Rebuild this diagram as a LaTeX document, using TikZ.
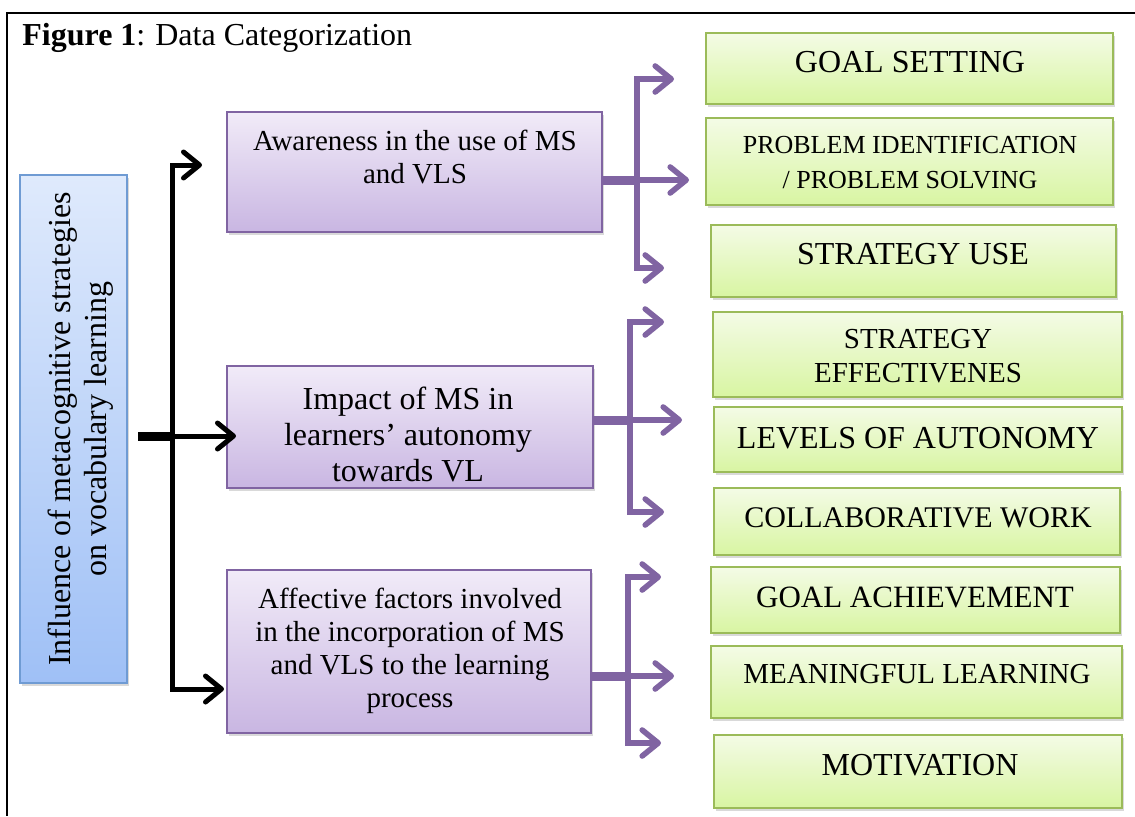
\documentclass[tikz,border=0pt]{standalone}
\usepackage{fontspec}
\setmainfont{Liberation Serif}
\usetikzlibrary{arrows.meta, shadows, fit}

\definecolor{purpleline}{HTML}{8064A2}
\definecolor{purpletop}{HTML}{F1EBF8}
\definecolor{purplebot}{HTML}{C9B6E2}
\definecolor{greenline}{HTML}{9BBB59}
\definecolor{greentop}{HTML}{F4FBE6}
\definecolor{greenbot}{HTML}{D8F5A2}
\definecolor{blueline}{HTML}{6F9BD3}
\definecolor{bluetop}{HTML}{DFEAFC}
\definecolor{bluebot}{HTML}{9FC0F6}

\tikzset{
    box/.style={inner sep=0pt, line width=1pt,
        drop shadow={shadow xshift=1.2pt, shadow yshift=-1.5pt, opacity=.3}},
    bluebox/.style={box, draw=blueline, top color=bluetop, bottom color=bluebot},
    purplebox/.style={box, draw=purpleline, top color=purpletop, bottom color=purplebot},
    greenbox/.style={box, draw=greenline, top color=greentop, bottom color=greenbot},
    txt/.style 2 args={inner sep=0pt, align=center, font=\fontsize{#1}{#2}\selectfont},
    barrow/.style={line width=2.5pt, -{Straight Barb[length=8pt, width=13pt, round]}},
    parrow/.style={draw=purpleline, line width=2.8pt, -{Straight Barb[length=8pt, width=13pt, round]}},
    bstub/.style={line width=4.5pt},
    pstub/.style={draw=purpleline, line width=4.5pt}
}

\begin{document}
\begin{tikzpicture}[x=0.5pt, y=-0.5pt]
    \useasboundingbox (0,0) rectangle (1135,816);
    \draw[line width=1pt] (1135,13) -- (7,13) -- (7,816);
    \node[anchor=base west, inner sep=0pt, font=\fontsize{16}{18}\selectfont] (title) at (22,45)
        {\textbf{Figure 1}:\hspace{5pt}Data Categorization};

    % main topic
    \node[bluebox, fit={(20,175) (127,683)}] (infl) {};
    \node[txt={16}{18}, rotate=90] (infl-t) at (81,429) {Influence of metacognitive strategies\\on vocabulary learning};

    % categories
    \node[purplebox, fit={(227,112) (602,232)}] (aware) {};
    \node[txt={14.5}{16.5}] (aware-t) at (415,157) {Awareness in the use of MS\\and VLS};
    \node[purplebox, fit={(227,366) (593,488)}] (impact) {};
    \node[txt={16}{18}] (impact-t) at (408,434) {Impact of MS in\\learners' autonomy\\towards VL};
    \node[purplebox, fit={(227,570) (591,733)}] (affect) {};
    \node[txt={14.5}{16.5}] (affect-t) at (410,651) {Affective factors involved\\in the incorporation of MS\\and VLS to the learning\\process};

    % codes
    \node[greenbox, fit={(706,33) (1113,104)}]   (goal) {};
    \node[txt={16}{18}] (goal-t) at (910,62) {GOAL SETTING};
    \node[greenbox, fit={(706,118) (1113,205)}]  (probl) {};
    \node[txt={13}{17.5}] (probl-t) at (910,163) {PROBLEM IDENTIFICATION\\/ PROBLEM SOLVING};
    \node[greenbox, fit={(711,225) (1116,297)}]  (use) {};
    \node[txt={16}{18}] (use-t) at (913,254) {STRATEGY USE};

    \node[greenbox, fit={(713,312) (1122,397)}]  (effect) {};
    \node[txt={14.5}{17}] (effect-t) at (918,356) {STRATEGY\\EFFECTIVENES};
    \node[greenbox, fit={(714,407) (1122,472)}]  (auton) {};
    \node[txt={16}{18}] (auton-t) at (918,438) {LEVELS OF AUTONOMY};
    \node[greenbox, fit={(714,488) (1120,555)}]  (collab) {};
    \node[txt={15}{18}] (collab-t) at (918,518) {COLLABORATIVE WORK};

    \node[greenbox, fit={(711,567) (1120,633)}]  (achiev) {};
    \node[txt={15.5}{18}] (achiev-t) at (915,597) {GOAL ACHIEVEMENT};
    \node[greenbox, fit={(711,646) (1122,718)}]  (meaning) {};
    \node[txt={14.5}{17}] (meaning-t) at (917,674) {MEANINGFUL LEARNING};
    \node[greenbox, fit={(714,735) (1122,808)}]  (motiv) {};
    \node[txt={16}{18}] (motiv-t) at (920,765) {MOTIVATION};

    % black branches
    \coordinate (bj) at (172,436);
    \draw[bstub, shorten <=5pt] (infl.east |- bj) -- (bj);
    \draw[barrow, shorten >=12pt] (bj) |- (aware.west |- 0,165);
    \draw[barrow, shorten >=-5pt] (bj) -- (impact.west |- bj);
    \draw[barrow, shorten >=1pt] (bj) |- (affect.west |- 0,689);

    % purple branches
    \coordinate (pj1) at (637,180);
    \draw[pstub] (aware.east |- pj1) -- (pj1);
    \draw[parrow, shorten >=15.5pt] (pj1) |- (goal.west |- 0,79);
    \draw[parrow, shorten >=8pt] (pj1) -- (probl.west |- pj1);
    \draw[parrow, shorten >=23pt] (pj1) |- (use.west |- 0,268);

    \coordinate (pj2) at (630,420);
    \draw[pstub] (impact.east |- pj2) -- (pj2);
    \draw[parrow, shorten >=24pt] (pj2) |- (effect.west |- 0,322);
    \draw[parrow, shorten >=15.5pt] (pj2) -- (auton.west |- pj2);
    \draw[parrow, shorten >=24.5pt] (pj2) |- (collab.west |- 0,512);

    \coordinate (pj3) at (628,676);
    \draw[pstub] (affect.east |- pj3) -- (pj3);
    \draw[parrow, shorten >=24.5pt] (pj3) |- (achiev.west |- 0,577);
    \draw[parrow, shorten >=18pt] (pj3) -- (meaning.west |- pj3);
    \draw[parrow, shorten >=26pt] (pj3) |- (motiv.west |- 0,743);
\end{tikzpicture}
\end{document}
